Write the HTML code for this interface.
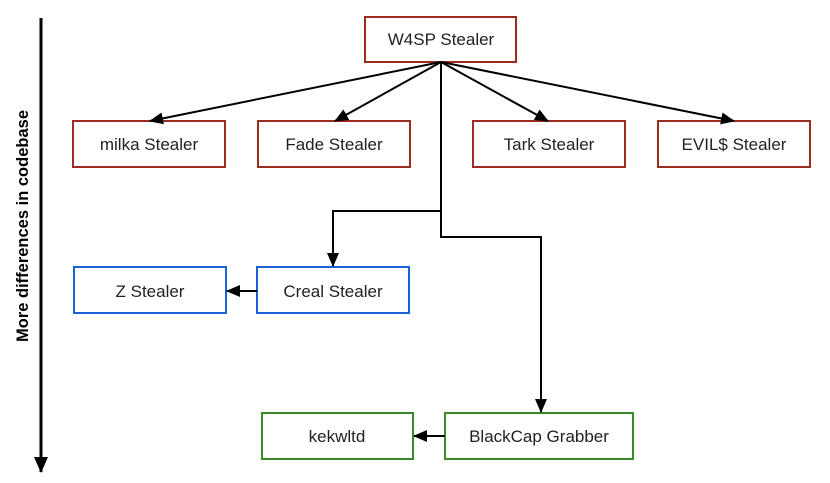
<!DOCTYPE html>
<html><head><meta charset="utf-8"><style>
html,body{margin:0;padding:0;background:#fff;}
svg{display:block;font-family:"Liberation Sans",sans-serif;}
</style></head><body>
<svg width="830" height="483" viewBox="0 0 830 483" xmlns="http://www.w3.org/2000/svg">
<defs>
<marker id="a" markerWidth="14" markerHeight="12" refX="13" refY="6" orient="auto" markerUnits="userSpaceOnUse">
<path d="M0,0 L14,6 L0,12 z" fill="#000"/>
</marker>
<marker id="b" markerWidth="16" markerHeight="14" refX="15" refY="7" orient="auto" markerUnits="userSpaceOnUse">
<path d="M0,0 L16,7 L0,14 z" fill="#000"/>
</marker>
</defs>
<g fill="#fff" stroke-width="2">
<rect x="365" y="17" width="151" height="45" stroke="#9b2c1f"/>
<rect x="73" y="121" width="152" height="46" stroke="#9b2c1f"/>
<rect x="258" y="121" width="152" height="46" stroke="#9b2c1f"/>
<rect x="473" y="121" width="152" height="46" stroke="#9b2c1f"/>
<rect x="658" y="121" width="152" height="46" stroke="#9b2c1f"/>
<rect x="74" y="267" width="152" height="46" stroke="#1a63d6"/>
<rect x="257" y="267" width="152" height="46" stroke="#1a63d6"/>
<rect x="262" y="413" width="151" height="46" stroke="#3a8a2a"/>
<rect x="445" y="413" width="188" height="46" stroke="#3a8a2a"/>
</g>
<g stroke="#000" stroke-width="2" fill="none">
<line x1="441" y1="62" x2="150" y2="121" marker-end="url(#a)"/>
<line x1="441" y1="62" x2="335" y2="121" marker-end="url(#a)"/>
<line x1="441" y1="62" x2="548" y2="121" marker-end="url(#a)"/>
<line x1="441" y1="62" x2="734" y2="121" marker-end="url(#a)"/>
<polyline points="441,62 441,211 333,211 333,266" marker-end="url(#a)"/>
<polyline points="441,211 441,237 541,237 541,412" marker-end="url(#a)"/>
<line x1="257" y1="291" x2="227" y2="291" marker-end="url(#a)"/>
<line x1="445" y1="436" x2="414" y2="436" marker-end="url(#a)"/>
<line x1="41" y1="18" x2="41" y2="472" stroke-width="3" marker-end="url(#b)"/>
</g>
<g font-size="17" fill="#222" text-anchor="middle">
<text x="441" y="45">W4SP Stealer</text>
<text x="149" y="150">milka Stealer</text>
<text x="334" y="150">Fade Stealer</text>
<text x="549" y="150">Tark Stealer</text>
<text x="734" y="150">EVIL$ Stealer</text>
<text x="150" y="297">Z Stealer</text>
<text x="333" y="297">Creal Stealer</text>
<text x="337" y="442">kekwltd</text>
<text x="539" y="442">BlackCap Grabber</text>
<text transform="translate(28,226) rotate(-90)" font-weight="bold" font-size="16.5" fill="#000">More differences in codebase</text>
</g>
</svg>
</body></html>
